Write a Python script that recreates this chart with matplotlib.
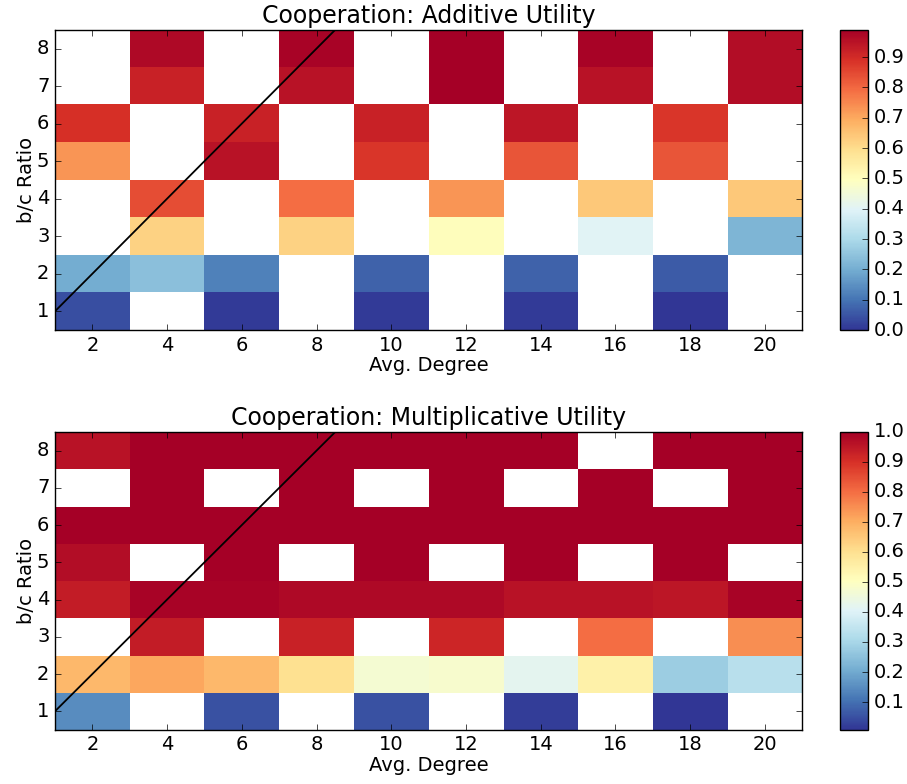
import matplotlib
matplotlib.use('Agg')
import matplotlib.pyplot as plt
import matplotlib.ticker as mticker
import numpy as np

plt.style.use('classic')

degrees = [2, 4, 6, 8, 10, 12, 14, 16, 18, 20]
ratios = [1, 2, 3, 4, 5, 6, 7, 8]
nan = np.nan

# rows = b/c ratio 1..8, columns = avg degree 2..20
additive = [
    [0.04, nan, 0.01, nan, 0.01, nan, 0.01, nan, 0.00, nan],
    [0.20, 0.24, 0.12, nan, 0.07, nan, 0.07, nan, 0.06, nan],
    [nan, 0.62, nan, 0.62, nan, 0.50, nan, 0.40, nan, 0.22],
    [nan, 0.84, nan, 0.79, nan, 0.73, nan, 0.64, nan, 0.64],
    [0.73, nan, 0.95, nan, 0.88, nan, 0.83, nan, 0.83, nan],
    [0.89, nan, 0.92, nan, 0.92, nan, 0.94, nan, 0.88, nan],
    [nan, 0.92, nan, 0.95, nan, 0.99, nan, 0.95, nan, 0.96],
    [nan, 0.97, nan, 0.98, nan, 0.99, nan, 0.98, nan, 0.96],
]

multiplicative = [
    [0.15, nan, 0.05, nan, 0.05, nan, 0.02, nan, 0.007, nan],
    [0.68, 0.71, 0.68, 0.60, 0.47, 0.48, 0.42, 0.55, 0.28, 0.33],
    [nan, 0.94, nan, 0.93, nan, 0.92, nan, 0.80, nan, 0.75],
    [0.94, 0.99, 0.99, 0.98, 0.98, 0.98, 0.96, 0.96, 0.95, 0.99],
    [0.97, nan, 1.0, nan, 1.0, nan, 1.0, nan, 1.0, nan],
    [1.0, 1.0, 1.0, 1.0, 1.0, 1.0, 1.0, 1.0, 1.0, 1.0],
    [nan, 1.0, nan, 1.0, nan, 1.0, nan, 1.0, nan, 1.0],
    [0.96, 1.0, 1.0, 1.0, 1.0, 1.0, 1.0, nan, 1.0, 1.0],
]

titles = ['Cooperation: Additive Utility', 'Cooperation: Multiplicative Utility']

fig = plt.figure(figsize=(9.07, 7.84), dpi=100, facecolor='white')

# axes positions in figure fraction (left, bottom, width, height)
ax_pos = [[0.0606, 0.579, 0.824, 0.383], [0.0606, 0.069, 0.824, 0.380]]
cb_pos = [[0.926, 0.579, 0.031, 0.383], [0.926, 0.069, 0.031, 0.380]]

for i, data in enumerate([additive, multiplicative]):
    arr = np.ma.masked_invalid(np.array(data, dtype=float))
    ax = fig.add_axes(ax_pos[i])
    im = ax.imshow(arr, cmap='RdYlBu_r', interpolation='nearest', origin='lower',
                   extent=[1, 21, 0.5, 8.5], aspect='auto')
    ax.plot([1, 21], [1, 21], 'k-', lw=1.3)
    ax.set_xlim(1, 21)
    ax.set_ylim(0.5, 8.5)
    ax.set_xticks(degrees)
    ax.set_yticks(ratios)
    ax.set_title(titles[i], fontsize=17)
    ax.set_xlabel('Avg. Degree', fontsize=14, labelpad=1)
    ax.set_ylabel('b/c Ratio', fontsize=14, labelpad=1)
    ax.tick_params(labelsize=14)
    cax = fig.add_axes(cb_pos[i])
    cb = fig.colorbar(im, cax=cax)
    cb.locator = mticker.MultipleLocator(0.1)
    cb.update_ticks()
    cb.ax.tick_params(labelsize=14)

plt.savefig('out.png', dpi=100, facecolor='white')
